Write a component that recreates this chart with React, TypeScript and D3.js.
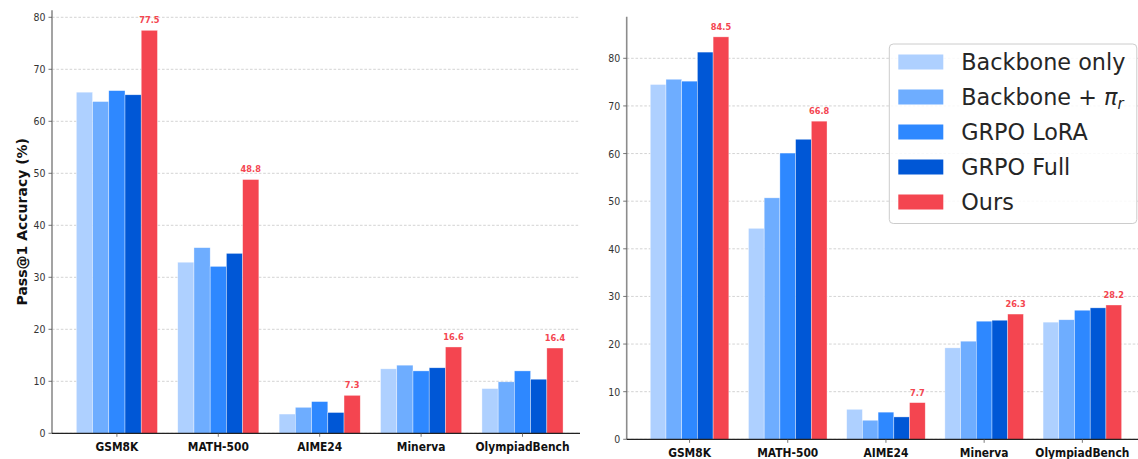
import React from "react";
import * as d3 from "d3";

// Benchmarks on the x axis
const CATEGORIES = ["GSM8K", "MATH-500", "AIME24", "Minerva", "OlympiadBench"];

// Methods, in bar order within each group
const SERIES = ["Backbone only", "Backbone + π_r", "GRPO LoRA", "GRPO Full", "Ours"];
const COLORS = ["#AED0FF", "#6EADFF", "#2E88FF", "#0057D6", "#F44550"];

// Pass@1 accuracy (%) — first model (left panel)
const LEFT_BACKBONE = [65.6, 32.9, 3.7, 12.4, 8.6];
const LEFT_BACKBONE_PI = [63.8, 35.7, 5.0, 13.1, 9.9];
const LEFT_GRPO_LORA = [65.9, 32.1, 6.1, 12.0, 12.0];
const LEFT_GRPO_FULL = [65.1, 34.6, 4.0, 12.6, 10.4];
const LEFT_OURS = [77.5, 48.8, 7.3, 16.6, 16.4];

// Pass@1 accuracy (%) — second model (right panel)
const RIGHT_BACKBONE = [74.5, 44.3, 6.3, 19.2, 24.6];
const RIGHT_BACKBONE_PI = [75.6, 50.7, 4.0, 20.6, 25.1];
const RIGHT_GRPO_LORA = [75.2, 60.1, 5.7, 24.8, 27.1];
const RIGHT_GRPO_FULL = [81.3, 63.0, 4.7, 25.0, 27.6];
const RIGHT_OURS = [84.5, 66.8, 7.7, 26.3, 28.2];

const Y_TICKS = [0, 10, 20, 30, 40, 50, 60, 70, 80];
const Y_LABEL = "Pass@1 Accuracy (%)";

const FONT = "'DejaVu Sans', sans-serif";
const SX = 0.87;

type PanelProps = {
  series: number[][];
  x0: number; // pixel of the y axis
  xEnd: number; // right end of the drawn axes
  unit: number; // pixels per category
  yBottom: number;
  pxPerUnit: number;
  showYLabel?: boolean;
};

function SqText(props: {
  x: number;
  y: number;
  anchor: "start" | "middle" | "end";
  size: number;
  weight?: string | number;
  fill: string;
  children: React.ReactNode;
}) {
  const { x, y, anchor, size, weight, fill, children } = props;
  return (
    <text
      transform={`translate(${x},${y}) scale(${SX},1)`}
      textAnchor={anchor}
      fontFamily={FONT}
      fontSize={size}
      fontWeight={weight ?? "normal"}
      fill={fill}
    >
      {children}
    </text>
  );
}

function Panel({ series, x0, xEnd, unit, yBottom, pxPerUnit, showYLabel }: PanelProps) {
  const yMax = (d3.max(series.flat()) as number) * 1.05;
  const y = d3
    .scaleLinear()
    .domain([0, yMax])
    .range([yBottom, yBottom - yMax * pxPerUnit]);
  const x = d3
    .scaleLinear()
    .domain([-0.64, CATEGORIES.length - 1 + 0.64])
    .range([x0, x0 + (CATEGORIES.length - 1 + 1.28) * unit]);
  const barW = 0.16;
  const yTop = y(yMax);
  const clipId = `clip-${Math.round(x0)}`;

  return (
    <g>
      <defs>
        <clipPath id={clipId}>
          <rect x={x0} y={yTop - 30} width={xEnd - x0} height={yBottom - yTop + 30} />
        </clipPath>
      </defs>
      {/* grid */}
      {Y_TICKS.map((t) => (
        <line
          key={`g${t}`}
          x1={x0}
          x2={xEnd}
          y1={y(t)}
          y2={y(t)}
          stroke="#c8c8c8"
          strokeWidth={0.8}
          strokeDasharray="2.6,1.8"
        />
      ))}
      {/* bars */}
      <g clipPath={`url(#${clipId})`}>
        {series.map((vals, si) =>
          vals.map((v, ci) => {
            const cx = x(ci + (si - 2) * barW);
            const w = x(barW) - x(0);
            return (
              <rect
                key={`b${si}-${ci}`}
                x={cx - w / 2}
                y={y(v)}
                width={w}
                height={y(0) - y(v)}
                fill={COLORS[si]}
                stroke="#ffffff"
                strokeOpacity={0.6}
                strokeWidth={0.6}
              />
            );
          })
        )}
      </g>
      {/* value labels on our method */}
      {series[series.length - 1].map((v, ci) => (
        <SqText
          key={`v${ci}`}
          x={x(ci + 2 * barW)}
          y={y(v + 1) - 2}
          anchor="middle"
          size={9.5}
          weight="bold"
          fill="#F44550"
        >
          {v.toFixed(1)}
        </SqText>
      ))}
      {/* spines */}
      <line x1={x0} x2={x0} y1={yTop} y2={yBottom} stroke="#8c8c8c" strokeWidth={1.6} />
      <line x1={x0} x2={xEnd} y1={yBottom} y2={yBottom} stroke="#222222" strokeWidth={1.2} />
      {/* y ticks */}
      {Y_TICKS.map((t) => (
        <g key={`yt${t}`}>
          <line x1={x0 - 3.5} x2={x0} y1={y(t)} y2={y(t)} stroke="#555" strokeWidth={0.8} />
          <SqText x={x0 - 6.5} y={y(t) + 4} anchor="end" size={10.8} fill="#333333">
            {t}
          </SqText>
        </g>
      ))}
      {/* x ticks */}
      {CATEGORIES.map((c, ci) => (
        <g key={`xt${c}`}>
          <line x1={x(ci)} x2={x(ci)} y1={yBottom} y2={yBottom + 3.5} stroke="#555" strokeWidth={0.8} />
          <SqText x={x(ci)} y={yBottom + 17.5} anchor="middle" size={12.3} weight="bold" fill="#111111">
            {c}
          </SqText>
        </g>
      ))}
      {showYLabel && (
        <text
          transform={`translate(26.5,${(yTop + yBottom) / 2}) rotate(-90)`}
          textAnchor="middle"
          fontFamily={FONT}
          fontSize={14}
          fontWeight="bold"
          fill="#111111"
        >
          {Y_LABEL}
        </text>
      )}
    </g>
  );
}

function LegendLabel({ name }: { name: string }) {
  if (name.includes("π_r")) {
    const base = name.split("π_r")[0];
    return (
      <>
        {base}
        <tspan fontStyle="italic">π</tspan>
        <tspan fontStyle="italic" fontSize={15} dy={4}>
          r
        </tspan>
      </>
    );
  }
  return <>{name}</>;
}

function Legend({ x, y }: { x: number; y: number }) {
  const rowH = 35;
  return (
    <g transform={`translate(${x},${y})`}>
      <rect
        x={0}
        y={0}
        width={247.5}
        height={179.5}
        rx={4}
        fill="#ffffff"
        fillOpacity={0.85}
        stroke="#cccccc"
        strokeWidth={1}
      />
      {SERIES.map((s, i) => (
        <g key={s} transform={`translate(0,${18 + i * rowH})`}>
          <rect x={9} y={-7.5} width={45} height={15} fill={COLORS[i]} />
          <text x={72} y={7.8} fontFamily={FONT} fontSize={22.3} fill="#262626">
            <LegendLabel name={s} />
          </text>
        </g>
      ))}
    </g>
  );
}

export default function App() {
  const left = [LEFT_BACKBONE, LEFT_BACKBONE_PI, LEFT_GRPO_LORA, LEFT_GRPO_FULL, LEFT_OURS];
  const right = [RIGHT_BACKBONE, RIGHT_BACKBONE_PI, RIGHT_GRPO_LORA, RIGHT_GRPO_FULL, RIGHT_OURS];
  return (
    <div style={{ position: "absolute", left: 0, top: 0 }}>
      <svg width={1138} height={459} style={{ display: "block", background: "#ffffff" }}>
        <Panel series={left} x0={52} xEnd={580} unit={101.4} yBottom={433.3} pxPerUnit={5.2} showYLabel />
        <Panel series={right} x0={626.7} xEnd={1138} unit={98.2} yBottom={439.3} pxPerUnit={4.7625} />
        <Legend x={889.3} y={44} />
      </svg>
    </div>
  );
}
